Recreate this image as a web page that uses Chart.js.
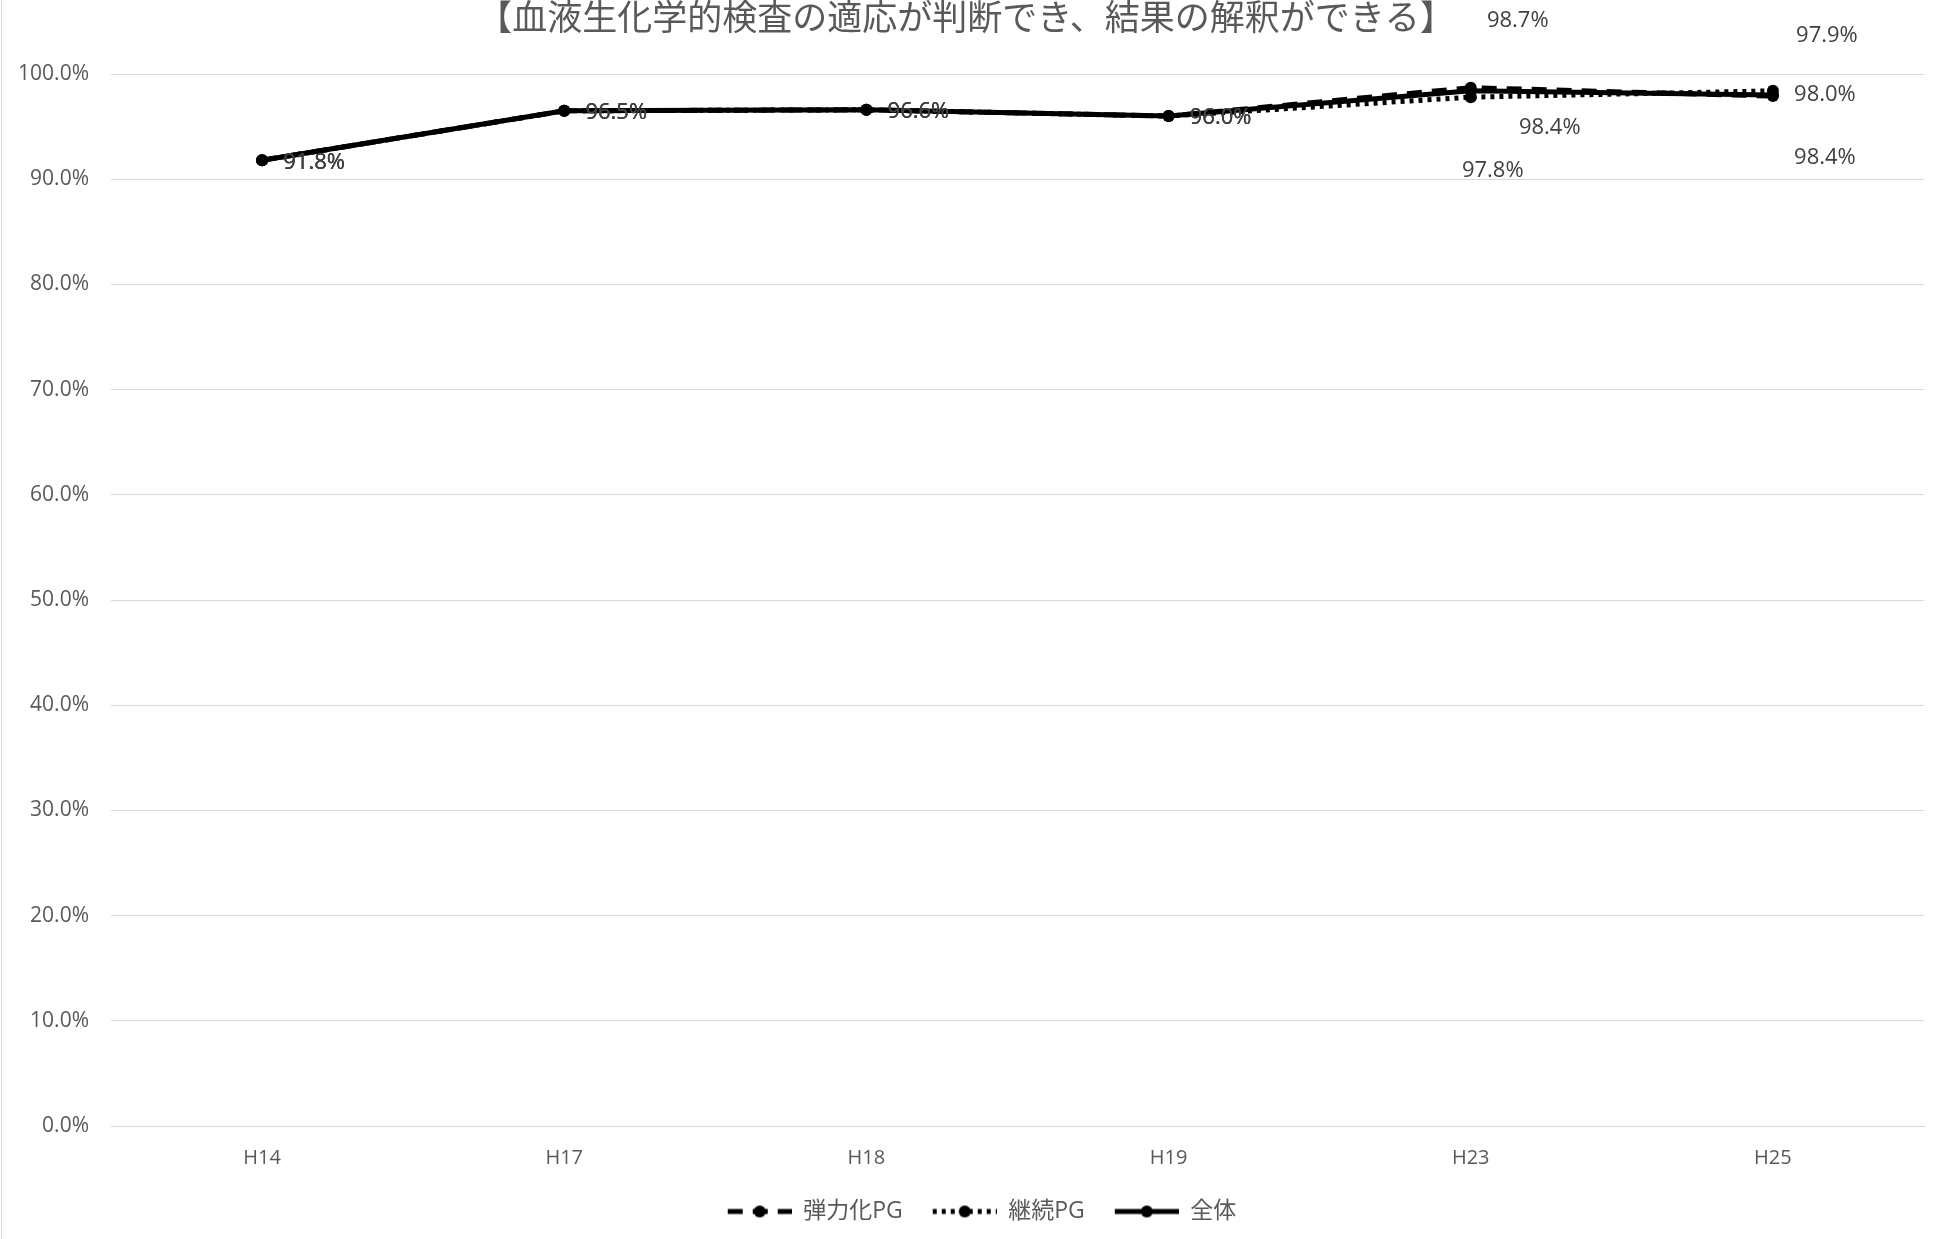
<!DOCTYPE html>
<html>
<head>
<meta charset="utf-8">
<script src="https://cdn.jsdelivr.net/npm/chart.js@4.4.1/dist/chart.umd.min.js"></script>
<style>
  html, body { margin: 0; padding: 0; background: #fff; }
  #wrap { width: 1933px; height: 1239px; position: relative; }
</style>
</head>
<body>
<div id="wrap"><canvas id="chart"></canvas></div>
<script>
const titleText = '【血液生化学的検査の適応が判断でき、結果の解釈ができる】';
const categories = ['H14', 'H17', 'H18', 'H19', 'H23', 'H25'];
const flexPG = [91.8, 96.5, 96.6, 96.0, 98.7, 97.9];
const contPG = [91.8, 96.5, 96.6, 96.0, 97.8, 98.4];
const total = [91.8, 96.5, 96.6, 96.0, 98.4, 98.0];
const yTicks = [0, 10, 20, 30, 40, 50, 60, 70, 80, 90, 100];

// label offsets (px) from each point, hand placed like the original
const flexLabelPos = [[52, 2], [52, 2], [52, 2], [52, 2], [47, -67], [54, -60]];
const contLabelPos = [[52, 2], [52, 2], [52, 2], [52, 2], [22, 74], [52, 67]];
const totalLabelPos = [[52, 2], [52, 2], [52, 2], [52, 2], [79, 37], [52, 0]];

const FONT = "'Open Sans', 'Noto Sans CJK JP', sans-serif";
const GRAY = '#595959';
const LEAD = 20; // blank space before each legend sample

// legend sample: line + marker
function legendSample(dash) {
  const c = document.createElement('canvas');
  c.width = 64 + LEAD; c.height = 16;
  const g = c.getContext('2d');
  g.strokeStyle = '#000';
  g.lineWidth = 5;
  g.setLineDash(dash);
  g.beginPath();
  g.moveTo(LEAD, 8); g.lineTo(LEAD + 64, 8);
  g.stroke();
  g.beginPath();
  g.arc(LEAD + 32, 8, 6, 0, Math.PI * 2);
  g.fillStyle = '#000';
  g.fill();
  return c;
}

const samples = [legendSample([15, 10]), legendSample([4, 5]), legendSample([])];

const pointLabels = {
  id: 'pointLabels',
  afterDatasetsDraw(chart) {
    const ctx = chart.ctx;
    const offsets = [flexLabelPos, contLabelPos, totalLabelPos];
    ctx.save();
    ctx.font = '22px ' + FONT;
    ctx.fillStyle = '#404040';
    ctx.textAlign = 'center';
    ctx.textBaseline = 'middle';
    chart.data.datasets.forEach((ds, i) => {
      const meta = chart.getDatasetMeta(i);
      meta.data.forEach((pt, j) => {
        const [dx, dy] = offsets[i][j];
        ctx.fillText(ds.data[j].toFixed(1) + '%', pt.x + dx, pt.y + dy);
      });
    });
    ctx.restore();
  }
};

const frame = {
  id: 'frame',
  afterLayout(chart) {
    // legend sits a bit right of centre in the original
    chart.legend.left += 10;
    chart.legend.right += 10;
  },
  beforeDraw(chart) {
    const ctx = chart.ctx;
    ctx.save();
    ctx.fillStyle = '#fff';
    ctx.fillRect(0, 0, chart.width, chart.height);
    ctx.strokeStyle = '#d9d9d9';
    ctx.lineWidth = 1;
    ctx.beginPath();
    ctx.moveTo(1.5, 0); ctx.lineTo(1.5, chart.height);
    ctx.stroke();
    ctx.restore();
  },
  afterDraw(chart) {
    const ctx = chart.ctx;
    ctx.save();
    ctx.font = "35px 'Noto Sans CJK JP', sans-serif";
    ctx.fillStyle = GRAY;
    ctx.textAlign = 'center';
    ctx.textBaseline = 'middle';
    ctx.fillText(titleText, 966, 17);
    ctx.restore();
  }
};

const ds = (label, data, dash, order) => ({
  label: label,
  data: data,
  borderColor: '#000',
  backgroundColor: '#000',
  borderWidth: 5,
  borderDash: dash,
  pointRadius: 6,
  pointHoverRadius: 6,
  pointBackgroundColor: '#000',
  pointBorderWidth: 0,
  tension: 0,
  order: order,
});

new Chart(document.getElementById('chart'), {
  type: 'line',
  data: {
    labels: categories,
    datasets: [
      ds('弾力化PG', flexPG, [15, 10], 2),
      ds('継続PG', contPG, [4, 5], 1),
      ds('全体', total, [], 0),
    ]
  },
  options: {
    responsive: true,
    maintainAspectRatio: false,
    animation: false,
    layout: { padding: { top: 74, right: 9, bottom: 6, left: 0 } },
    scales: {
      x: {
        offset: true,
        grid: { display: false, drawTicks: false },
        border: { color: '#d9d9d9', width: 1 },
        ticks: { color: GRAY, font: { family: FONT, size: 20 }, padding: 20 },
      },
      y: {
        min: 0,
        max: 100,
        afterFit: s => { s.width = 111; },
        afterBuildTicks: s => { s.ticks = yTicks.map(v => ({ value: v })); },
        grid: { color: '#d9d9d9', lineWidth: 1, drawTicks: false },
        border: { display: false },
        ticks: {
          color: GRAY,
          padding: 22,
          font: { family: FONT, size: 21 },
          callback: v => v.toFixed(1) + '%',
        },
      },
    },
    plugins: {
      legend: {
        position: 'bottom',
        labels: {
          usePointStyle: true,
          pointStyleWidth: 64 + LEAD,
          color: GRAY,
          font: { family: FONT, size: 23 },
          padding: 10,
          generateLabels: chart => chart.data.datasets.map((d, i) => ({
            text: d.label,
            pointStyle: samples[i],
            fillStyle: '#000',
            strokeStyle: '#000',
            lineWidth: 0,
            datasetIndex: i,
            fontColor: GRAY,
          })),
        },
      },
      tooltip: { enabled: false },
    },
  },
  plugins: [frame, pointLabels],
});
</script>
</body>
</html>
